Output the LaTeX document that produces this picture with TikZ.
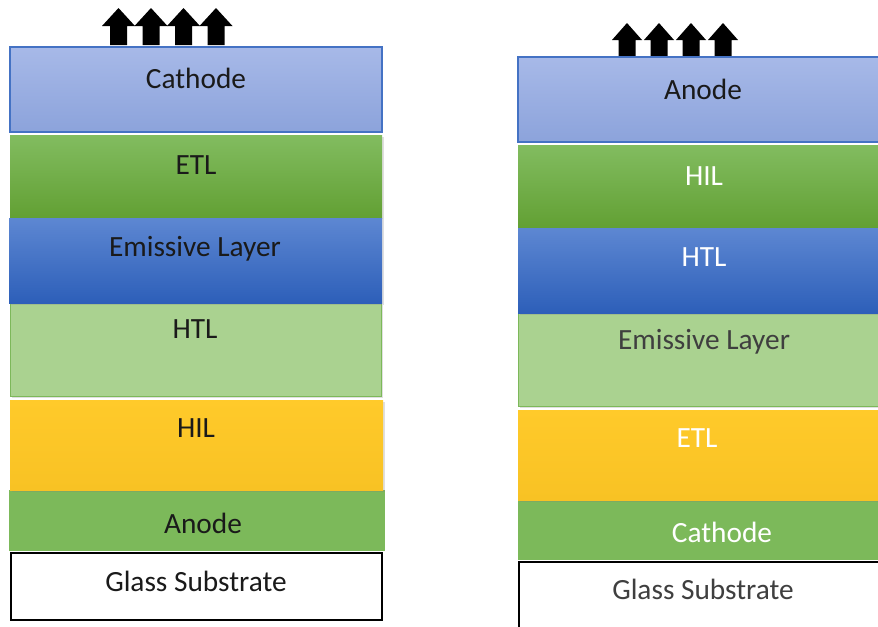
\documentclass[tikz,border=0pt]{standalone}
\usepackage{fontspec}
\setmainfont{Carlito}
\usetikzlibrary{shadows}
\definecolor{bluetop}{HTML}{A7B9E8}
\definecolor{bluebot}{HTML}{8CA3DB}
\definecolor{blueedge}{HTML}{4472C4}
\definecolor{greentop}{HTML}{82BC60}
\definecolor{greenbot}{HTML}{62A033}
\definecolor{dbluetop}{HTML}{5D87D2}
\definecolor{dbluebot}{HTML}{2D5FB9}
\definecolor{lgreen}{HTML}{AAD290}
\definecolor{lgreenedge}{HTML}{7DB85A}
\definecolor{yel}{HTML}{FFCA2A}
\definecolor{yelbot}{HTML}{F8C224}
\definecolor{midgreen}{HTML}{7CB95A}
\definecolor{txtdark}{HTML}{1A1A1A}
\definecolor{txtgray}{HTML}{3F3F3F}
\tikzset{
  x=0.75pt, y=-0.75pt,
  lbl/.style={font=\fontsize{22}{24}\selectfont, anchor=base, inner sep=0pt, text=txtdark},
  wlbl/.style={lbl, text=white},
  glbl/.style={lbl, text=txtgray},
  pale/.style={fill=bluetop, top color=bluetop, bottom color=bluebot, draw=blueedge, line width=0.8pt},
  grn/.style={top color=greentop, bottom color=greenbot, draw=none},
  dbl/.style={top color=dbluetop, bottom color=dbluebot, draw=none},
  lgr/.style={fill=lgreen, draw=lgreenedge, line width=0.6pt},
  ylw/.style={top color=yel, bottom color=yelbot, draw=none},
  mgr/.style={fill=midgreen, draw=none},
  glass/.style={fill=white, draw=black, line width=1.3pt},
  shad/.style={drop shadow={opacity=0.25, shadow xshift=1.5pt, shadow yshift=-1.5pt, fill=gray}},
  arrowshape/.style={fill=black, draw=none}
}
\begin{document}
\begin{tikzpicture}
\useasboundingbox (0,0) rectangle (878,626);
\fill[white] (0,0) rectangle (878,626);

% ---------- left stack ----------
\foreach \cx in {118.5,151,183.5,216}{
  \fill[arrowshape] (\cx,8) -- (\cx+16.5,26) -- (\cx+8.5,26) -- (\cx+8.5,45)
     -- (\cx-8.5,45) -- (\cx-8.5,26) -- (\cx-16.5,26) -- cycle;
}
\path[glass] (11,553) rectangle (382,620);
\path[mgr] (9,490) rectangle (385,551);
\path[ylw, shad] (10,400) rectangle (383,490);
\path[lgr, shad] (10,303) rectangle (381,396);
\path[grn, shad] (10,135) rectangle (382,218);
\path[dbl, shad] (9,218) rectangle (382,303);
\path[pale] (10,47) rectangle (382,132);

\node[lbl] (lcath) at (196,88) {Cathode};
\node[lbl] (letl) at (196,174) {ETL};
\node[lbl] (lem) at (195,256) {Emissive Layer};
\node[lbl] (lhtl) at (195,338) {HTL};
\node[lbl] (lhil) at (196,437) {HIL};
\node[lbl] (lan) at (203,533) {Anode};
\node[lbl] (lgl) at (196,591) {Glass Substrate};

% ---------- right stack ----------
\foreach \cx in {627,659,691,723}{
  \fill[arrowshape] (\cx,23) -- (\cx+15,40) -- (\cx+8.5,40) -- (\cx+8.5,57)
     -- (\cx-8.5,57) -- (\cx-8.5,40) -- (\cx-15,40) -- cycle;
}
\path[glass] (519,562) rectangle (882,632);
\path[mgr] (518,500) rectangle (880,560);
\path[ylw, shad] (518,410) rectangle (880,500);
\path[lgr, shad] (518,313) rectangle (880,406);
\path[grn, shad] (518,145) rectangle (880,228);
\path[dbl, shad] (518,228) rectangle (880,313);
\path[pale] (518,57) rectangle (880,142);

\node[lbl] (ran) at (703,99) {Anode};
\node[wlbl] (rhil) at (704,185) {HIL};
\node[wlbl] (rhtl) at (704,266) {HTL};
\node[glbl] (rem) at (704,349) {Emissive Layer};
\node[wlbl] (retl) at (697,447) {ETL};
\node[wlbl] (rcath) at (722,542) {Cathode};
\node[glbl] (rgl) at (703,599) {Glass Substrate};
\end{tikzpicture}
\end{document}
